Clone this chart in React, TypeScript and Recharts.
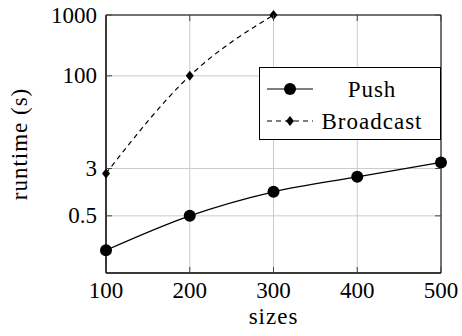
import { LineChart, Line, XAxis, YAxis, CartesianGrid, ReferenceArea, Label } from 'recharts';

const sizes = [100, 200, 300, 400, 500];
const pushRuntime = [0.136, 0.5, 1.24, 2.19, 3.78];
const broadcastRuntime = [2.49, 100, 1000, null, null];
const yTicks = [0.5, 3, 100, 1000];
const yDomain = [0.0575, 1000];

const W = 462;
const H = 336;
// plot box (pixels)
const PLOT = { left: 106, right: 441, top: 15, bottom: 273 };
const FONT = '"Liberation Serif", serif';
const FS = 23;

const data = sizes.map((s, i) => ({
  size: s,
  push: pushRuntime[i],
  broadcast: broadcastRuntime[i],
}));

const XTick = ({ x, y, payload }: any) => (
  <g>
    <line x1={x} x2={x} y1={PLOT.bottom} y2={PLOT.bottom - 6} stroke="#444" />
    <line x1={x} x2={x} y1={PLOT.top} y2={PLOT.top + 6} stroke="#444" />
    <text x={x} y={y} dy="0.71em" textAnchor="middle" style={{ fontFamily: FONT, fontSize: FS }} fill="#000">
      {payload.value}
    </text>
  </g>
);

const YTick = ({ x, y, payload }: any) => (
  <g>
    <line x1={PLOT.left} x2={PLOT.left + 6} y1={y} y2={y} stroke="#444" />
    <line x1={PLOT.right} x2={PLOT.right - 6} y1={y} y2={y} stroke="#444" />
    <text x={x} y={y} dy="0.33em" textAnchor="end" style={{ fontFamily: FONT, fontSize: FS }} fill="#000">
      {payload.value}
    </text>
  </g>
);

const PushDot = (props: any) => {
  const { cx, cy, key } = props;
  if (cx == null || cy == null) return <g key={key} />;
  return <circle key={key} cx={cx} cy={cy} r={6} fill="#000" />;
};

const DiamondDot = (props: any) => {
  const { cx, cy, key, value } = props;
  if (cx == null || cy == null || value == null) return <g key={key} />;
  return (
    <polygon
      key={key}
      points={`${cx},${cy - 5} ${cx + 4},${cy} ${cx},${cy + 5} ${cx - 4},${cy}`}
      fill="#000"
    />
  );
};

const textStyle = { fontFamily: FONT, fontSize: FS, letterSpacing: 1 };

const LegendBox = () => (
  <svg width={182} height={73} style={{ display: 'block' }}>
    <rect x={0.5} y={0.5} width={181} height={72} fill="#fff" stroke="#000" />
    <line x1={8} x2={54} y1={22} y2={22} stroke="#000" strokeWidth={1.2} />
    <circle cx={31} cy={22} r={6} fill="#000" />
    <text x={113} y={22} dy="0.33em" textAnchor="middle" style={textStyle}>
      Push
    </text>
    <line x1={8} x2={54} y1={54} y2={54} stroke="#000" strokeWidth={1.2} strokeDasharray="5 4" />
    <polygon points="31,49 35,54 31,59 27,54" fill="#000" />
    <text x={113} y={54} dy="0.33em" textAnchor="middle" style={textStyle}>
      Broadcast
    </text>
  </svg>
);

export default function App() {
  return (
    <div style={{ position: 'absolute', left: 0, top: 0, width: W, height: H, background: '#fff', fontFamily: FONT }}>
      <LineChart
        width={W}
        height={H}
        data={data}
        margin={{ top: PLOT.top, right: W - PLOT.right, left: 0, bottom: 0 }}
      >
        <CartesianGrid stroke="#cccccc" strokeWidth={1} />
        <XAxis
          dataKey="size"
          type="number"
          domain={[100, 500]}
          ticks={sizes}
          height={H - PLOT.bottom}
          tickSize={0}
          tickMargin={9}
          tick={<XTick />}
          axisLine={{ stroke: '#000' }}
        >
          <Label
            value="sizes"
            position="insideBottom"
            offset={12}
            style={{ ...textStyle, fill: '#000' }}
          />
        </XAxis>
        <YAxis
          scale="log"
          type="number"
          domain={yDomain}
          ticks={yTicks}
          width={PLOT.left}
          tickSize={0}
          tickMargin={9}
          tick={<YTick />}
          axisLine={{ stroke: '#000' }}
        >
          <Label
            value="runtime (s)"
            angle={-90}
            position="insideLeft"
            offset={19}
            style={{ ...textStyle, fill: '#000', textAnchor: 'middle' }}
          />
        </YAxis>
        <ReferenceArea x1={100} x2={500} y1={yDomain[0]} y2={yDomain[1]} fill="none" stroke="#000" strokeWidth={1} />
        <Line
          dataKey="push"
          type="monotone"
          stroke="#000"
          strokeWidth={1.2}
          dot={PushDot}
          activeDot={false}
          isAnimationActive={false}
        />
        <Line
          dataKey="broadcast"
          type="monotone"
          stroke="#000"
          strokeWidth={1.2}
          strokeDasharray="5 4"
          dot={DiamondDot}
          activeDot={false}
          connectNulls={false}
          isAnimationActive={false}
        />
      </LineChart>
      <div style={{ position: 'absolute', left: 259, top: 67 }}>
        <LegendBox />
      </div>
    </div>
  );
}
